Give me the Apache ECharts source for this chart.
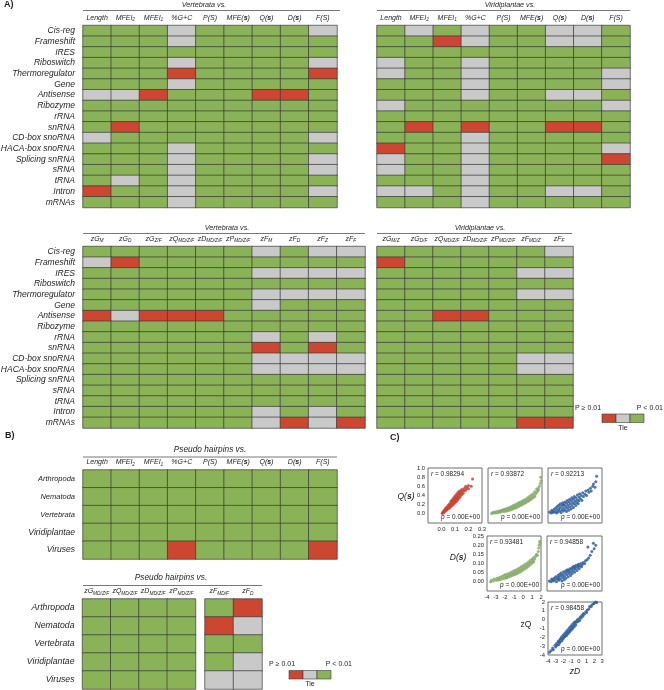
<!DOCTYPE html>
<html><head><meta charset="utf-8">
<script src="https://cdn.jsdelivr.net/npm/echarts@6/dist/echarts.min.js"></script>
<style>html,body{margin:0;padding:0;background:#fff}#c{width:664px;height:690px}</style>
</head><body><div id="c"></div>
<script>
// ---------------- DATA ----------------
const rnaRows = ['Cis-reg','Frameshift','IRES','Riboswitch','Thermoregulator','Gene','Antisense','Ribozyme','rRNA','snRNA','CD-box snoRNA','HACA-box snoRNA','Splicing snRNA','sRNA','tRNA','Intron','mRNAs'];
const featCols = ['Length','MFEI_2','MFEI_1','%G+C','P(S)','MFE(s)','Q(s)','D(s)','F(S)'];
const zColsVert = ['zG_M','zG_D','zG_Z/F','zQ_MD/Z/F','zD_MD/Z/F','zP_MD/Z/F','zF_M','zF_D','zF_Z','zF_F'];
const zColsViri = ['zG_M/Z','zG_D/F','zQ_MD/Z/F','zD_MD/Z/F','zP_MD/Z/F','zF_MD/Z','zF_F'];
const taxaRows = ['Arthropoda','Nematoda','Vertebrata','Viridiplantae','Viruses'];
const zColsPseudoA = ['zG_MD/Z/F','zQ_MD/Z/F','zD_MD/Z/F','zP_MD/Z/F'];
const zColsPseudoB = ['zF_MD/F','zF_D'];
// codes: G = P < 0.01, T = tie, R = P >= 0.01
const vertFeat = ['GGGTGGGGT','GGGTGGGGG','GGGGGGGGG','GGGTGGGGT','GGGRGGGGR','GGGTGGGGG','TTRGGGRRG','GGGGGGGGG','GGGGGGGGG','GRGGGGGGG','TGGGGGGGT','GGGTGGGGG','GGGTGGGGT','GGGTGGGGT','GTGTGGGGG','RGGTGGGGT','GGGTGGGGG'];
const viriFeat = ['GTGTGGTTG','GGRTGGTTG','GGGGGGGGG','TGGTGGGGG','TGGTGGGGT','GGGTGGGGT','GGGTGGTTG','TGGGGGGGT','GGGGGGGGG','GRGRGGRRG','GGGTGGGGG','RGGTGGGGT','TGGTGGGGR','TGGTGGGGG','GGGTGGGGG','TTGTGGTTG','GGGTGGGGG'];
const vertZ = ['GGGGGGTGTT','TRGGGGGGGG','GGGGGGTTTT','GGGGGGGGGG','GGGGGGTTTT','GGGGGGTGGG','RTRRRGGGGG','GGGGGGGGGG','GGGGGGTGTG','GGGGGGRGRG','GGGGGGTTTT','GGGGGGTTTT','GGGGGGGGGG','GGGGGGGGGG','GGGGGGGGGG','GGGGGGTGTG','GGGGGGTRTR'];
const viriZ = ['GGGGGGT','RGGGGGG','GGGGGTT','GGGGGGG','GGGGGTT','GGGGGGG','GGRRGGG','GGGGGGG','GGGGGGG','GGGGGGG','GGGGGTT','GGGGGTT','GGGGGGG','GGGGGGG','GGGGGGG','GGGGGGG','GGGGGRR'];
const pseudoFeat = ['GGGGGGGGG','GGGGGGGGG','GGGGGGGGG','GGGGGGGGG','GGGRGGGGR'];
const pseudoZA = ['GGGG','GGGG','GGGG','GGGG','GGGG'];
const pseudoZB = ['GR','RT','GG','GT','TT'];

// scatter panels (panel C)
const qVsD = [[0.005,0.01],[0.01,0.02],[0.01,0.04],[0.02,0.04],[0.02,0.06],[0.02,0.08],[0.03,0.06],[0.03,0.09],[0.03,0.12],[0.04,0.09],[0.04,0.12],[0.04,0.15],[0.05,0.11],[0.05,0.15],[0.05,0.19],[0.06,0.13],[0.06,0.17],[0.06,0.22],[0.07,0.16],[0.07,0.2],[0.07,0.25],[0.07,0.28],[0.08,0.18],[0.08,0.23],[0.08,0.28],[0.08,0.31],[0.09,0.21],[0.09,0.26],[0.09,0.3],[0.09,0.35],[0.1,0.24],[0.1,0.29],[0.1,0.34],[0.1,0.39],[0.11,0.27],[0.11,0.32],[0.11,0.37],[0.11,0.42],[0.12,0.3],[0.12,0.36],[0.12,0.41],[0.12,0.46],[0.13,0.34],[0.13,0.4],[0.13,0.45],[0.13,0.49],[0.14,0.38],[0.14,0.44],[0.14,0.5],[0.15,0.42],[0.15,0.48],[0.15,0.53],[0.16,0.45],[0.16,0.52],[0.17,0.5],[0.17,0.56],[0.18,0.52],[0.18,0.6],[0.19,0.57],[0.2,0.55],[0.2,0.62],[0.22,0.6],[0.23,0.76],[0.015,0.03],[0.035,0.1],[0.065,0.19],[0.095,0.28],[0.115,0.34]];
const qVsZQ = [[-3.6,0.01],[-3.5,0.03],[-3.4,0.02],[-3.3,0.03],[-3.2,0.04],[-3.1,0.02],[-3.0,0.05],[-2.9,0.03],[-2.8,0.06],[-2.7,0.04],[-2.6,0.07],[-2.6,0.04],[-2.5,0.05],[-2.5,0.08],[-2.4,0.06],[-2.3,0.09],[-2.2,0.05],[-2.2,0.1],[-2.1,0.08],[-2.0,0.06],[-2.0,0.11],[-1.9,0.09],[-1.8,0.07],[-1.8,0.13],[-1.7,0.1],[-1.6,0.08],[-1.6,0.14],[-1.5,0.12],[-1.4,0.09],[-1.4,0.16],[-1.3,0.13],[-1.2,0.11],[-1.2,0.18],[-1.1,0.15],[-1.0,0.12],[-1.0,0.2],[-0.9,0.17],[-0.8,0.14],[-0.8,0.22],[-0.7,0.19],[-0.6,0.16],[-0.6,0.24],[-0.5,0.21],[-0.4,0.18],[-0.4,0.26],[-0.3,0.23],[-0.2,0.2],[-0.2,0.28],[-0.1,0.25],[0.0,0.22],[0.0,0.3],[0.1,0.27],[0.2,0.24],[0.2,0.32],[0.3,0.29],[0.4,0.27],[0.4,0.35],[0.5,0.32],[0.6,0.29],[0.6,0.38],[0.7,0.34],[0.8,0.32],[0.8,0.41],[0.9,0.37],[1.0,0.35],[1.0,0.44],[1.1,0.4],[1.2,0.38],[1.2,0.48],[1.3,0.44],[1.4,0.47],[1.4,0.54],[1.5,0.5],[1.6,0.52],[1.6,0.56],[1.7,0.6],[1.8,0.66],[1.9,0.72],[1.85,0.8]];
const qVsZD = [[-3.8,0.04],[-3.6,0.02],[-3.5,0.08],[-3.4,0.05],[-3.3,0.03],[-3.2,0.1],[-3.1,0.05],[-3.0,0.13],[-2.9,0.02],[-2.8,0.08],[-2.8,0.16],[-2.7,0.04],[-2.6,0.11],[-2.6,0.19],[-2.5,0.06],[-2.4,0.14],[-2.4,0.22],[-2.3,0.03],[-2.2,0.09],[-2.2,0.18],[-2.1,0.24],[-2.0,0.06],[-2.0,0.13],[-2.0,0.2],[-1.9,0.2],[-1.8,0.26],[-1.8,0.09],[-1.7,0.16],[-1.6,0.05],[-1.6,0.23],[-1.5,0.12],[-1.5,0.29],[-1.4,0.19],[-1.3,0.08],[-1.3,0.26],[-1.2,0.15],[-1.2,0.32],[-1.1,0.22],[-1.0,0.11],[-1.0,0.29],[-0.9,0.18],[-0.9,0.35],[-0.8,0.25],[-0.7,0.14],[-0.7,0.32],[-0.6,0.22],[-0.6,0.38],[-0.5,0.28],[-0.4,0.18],[-0.4,0.35],[-0.3,0.25],[-0.2,0.41],[-0.2,0.31],[-0.1,0.22],[0.0,0.37],[0.0,0.28],[0.1,0.44],[0.2,0.33],[0.3,0.4],[0.4,0.29],[0.5,0.46],[0.6,0.38],[0.8,0.43],[0.9,0.5],[1.0,0.4],[1.2,0.52],[1.3,0.47],[1.5,0.56],[1.6,0.5],[1.8,0.6],[1.9,0.65],[2.1,0.58],[2.2,0.7],[2.3,0.82]];
const dVsZQ = [[-3.6,0.0],[-3.5,0.01],[-3.3,0.005],[-3.2,0.015],[-3.0,0.008],[-2.9,0.02],[-2.8,0.01],[-2.7,0.022],[-2.6,0.012],[-2.5,0.027],[-2.4,0.015],[-2.3,0.03],[-2.2,0.018],[-2.1,0.035],[-2.0,0.02],[-2.0,0.038],[-1.9,0.028],[-1.8,0.022],[-1.8,0.042],[-1.7,0.032],[-1.6,0.026],[-1.6,0.046],[-1.5,0.036],[-1.4,0.03],[-1.4,0.05],[-1.3,0.04],[-1.2,0.034],[-1.2,0.055],[-1.1,0.045],[-1.0,0.038],[-1.0,0.06],[-0.9,0.05],[-0.8,0.042],[-0.8,0.065],[-0.7,0.055],[-0.6,0.047],[-0.6,0.07],[-0.5,0.06],[-0.4,0.052],[-0.4,0.076],[-0.3,0.066],[-0.2,0.058],[-0.2,0.082],[-0.1,0.072],[0.0,0.064],[0.0,0.088],[0.1,0.078],[0.2,0.07],[0.2,0.094],[0.3,0.085],[0.4,0.077],[0.4,0.1],[0.5,0.092],[0.6,0.085],[0.6,0.108],[0.7,0.1],[0.8,0.093],[0.8,0.116],[0.9,0.108],[1.0,0.102],[1.0,0.124],[1.1,0.116],[1.2,0.11],[1.2,0.133],[1.3,0.125],[1.4,0.14],[1.5,0.15],[1.6,0.145],[1.7,0.165],[1.75,0.185],[1.8,0.2],[1.85,0.22],[1.9,0.21]];
const dVsZD = [[-3.7,0.005],[-3.5,0.0],[-3.4,0.015],[-3.3,0.01],[-3.2,0.005],[-3.1,0.02],[-3.0,0.01],[-2.9,0.028],[-2.8,0.0],[-2.7,0.018],[-2.6,0.035],[-2.6,0.015],[-2.5,0.008],[-2.5,0.026],[-2.4,0.042],[-2.3,0.015],[-2.2,0.032],[-2.2,0.048],[-2.1,0.005],[-2.0,0.022],[-2.0,0.04],[-1.9,0.055],[-1.8,0.012],[-1.8,0.03],[-1.7,0.047],[-1.6,0.06],[-1.6,0.02],[-1.5,0.038],[-1.4,0.054],[-1.4,0.066],[-1.3,0.028],[-1.2,0.045],[-1.2,0.062],[-1.1,0.072],[-1.0,0.035],[-1.0,0.053],[-0.9,0.068],[-0.8,0.078],[-0.8,0.045],[-0.7,0.06],[-0.6,0.074],[-0.6,0.085],[-0.5,0.052],[-0.4,0.068],[-0.4,0.082],[-0.3,0.09],[-0.2,0.062],[-0.1,0.078],[0.0,0.088],[0.0,0.096],[0.1,0.072],[0.2,0.086],[0.3,0.1],[0.4,0.082],[0.5,0.095],[0.6,0.106],[0.8,0.1],[0.9,0.115],[1.1,0.12],[1.2,0.19],[1.3,0.13],[1.5,0.145],[1.7,0.165],[1.9,0.21],[2.0,0.18],[2.2,0.2]];
const zqVsZD = [[-3.8,-3.7],[-3.6,-3.5],[-3.4,-3.2],[-3.3,-3.4],[-3.1,-2.9],[-3.0,-3.1],[-2.9,-2.7],[-2.8,-2.9],[-2.7,-2.5],[-2.6,-2.8],[-2.6,-2.4],[-2.5,-2.6],[-2.4,-2.2],[-2.4,-2.5],[-2.3,-2.1],[-2.2,-2.4],[-2.2,-1.9],[-2.1,-2.2],[-2.0,-1.7],[-2.0,-2.1],[-1.9,-1.9],[-1.8,-1.5],[-1.8,-1.9],[-1.7,-1.7],[-1.6,-1.3],[-1.6,-1.8],[-1.5,-1.5],[-1.4,-1.1],[-1.4,-1.6],[-1.3,-1.3],[-1.2,-0.9],[-1.2,-1.4],[-1.1,-1.1],[-1.0,-0.7],[-1.0,-1.2],[-0.9,-0.9],[-0.8,-0.5],[-0.8,-1.0],[-0.7,-0.7],[-0.6,-0.3],[-0.6,-0.8],[-0.5,-0.5],[-0.4,-0.2],[-0.4,-0.6],[-0.3,-0.3],[-0.2,0.0],[-0.1,-0.2],[0.0,0.1],[0.1,-0.1],[0.2,0.3],[0.3,0.2],[0.4,0.5],[0.5,0.4],[0.6,0.7],[0.7,0.6],[0.9,0.9],[1.0,0.8],[1.1,1.1],[1.3,1.2],[1.4,1.5],[1.6,1.5],[1.7,1.7],[1.9,1.8],[2.0,1.9],[2.2,2.0],[2.3,1.95]];
const rValues = ['0.98294','0.93872','0.92213','0.93481','0.94858','0.98458'];
const pValues = ['0.00E+00','0.00E+00','0.00E+00','0.00E+00','0.00E+00','0.00E+00'];

// ---------------- STYLE / LAYOUT ----------------
const FF = 'Liberation Sans';
const RED = '#cd4630', GRAY = '#c9c9c9', GREEN = '#8ab257';
const TXT = '#1e1e1e';
const codeVal = {R:0, T:1, G:2};

function colFmt(l){
  let s = l.replace('(s)','({b|s})');
  const i = s.indexOf('_');
  if (i >= 0) s = s.slice(0,i) + '{s|' + s.slice(i+1) + '}';
  return s;
}
const colRich = {
  s:{fontSize:4.8, fontStyle:'italic', fontFamily:FF, color:TXT, verticalAlign:'bottom', lineHeight:5},
  b:{fontSize:7, fontStyle:'italic', fontWeight:'bold', fontFamily:FF, color:TXT, lineHeight:9}
};

const heatPanels = [
  {cols:featCols, rows:rnaRows, cells:vertFeat, l:83, t:25.5, w:254, h:182, rl:true},
  {cols:featCols, rows:rnaRows, cells:viriFeat, l:377, t:25.5, w:253, h:182, rl:false},
  {cols:zColsVert, rows:rnaRows, cells:vertZ, l:83, t:246.5, w:282, h:181.5, rl:true},
  {cols:zColsViri, rows:rnaRows, cells:viriZ, l:377, t:246.5, w:196, h:181.5, rl:false},
  {cols:featCols, rows:taxaRows, cells:pseudoFeat, l:83, t:470, w:254, h:89, rl:true, taxaTop:true},
  {cols:zColsPseudoA, rows:taxaRows, cells:pseudoZA, l:82.5, t:599, w:113, h:90, rl:true, taxaBig:true},
  {cols:zColsPseudoB, rows:taxaRows, cells:pseudoZB, l:205, t:599, w:57, h:90, rl:false}
];

// hx / hy: hide the label at the axis minimum
const scatterPanels = [
  {data:qVsD, color:'#c9432f', l:428, t:468, w:54, h:55, x:[-0.1,0.3,0.1], y:[-0.2,1.0,0.2], showX:true, showY:true, xd:1, yd:1, hx:true, hy:true},
  {data:qVsZQ, color:'#86ad6a', l:488, t:468, w:54, h:55, x:[-4,2,1], y:[-0.2,1.0,0.2]},
  {data:qVsZD, color:'#2f5f9e', l:548, t:468, w:54, h:55, x:[-4,3,1], y:[-0.2,1.0,0.2]},
  {data:dVsZQ, color:'#86ad6a', l:487, t:536, w:54, h:55, x:[-4,2,1], y:[-0.05,0.25,0.05], showX:true, showY:true, xd:0, yd:2, hx:false, hy:true},
  {data:dVsZD, color:'#2f5f9e', l:547, t:536, w:55, h:55, x:[-4,3,1], y:[-0.05,0.25,0.05]},
  {data:zqVsZD, color:'#2f5f9e', l:548, t:602, w:54, h:53, x:[-4,3,1], y:[-4,2,1], showX:true, showY:true, xd:0, yd:0, hx:false, hy:false}
];

const grids = [], xAxes = [], yAxes = [], series = [], graphics = [];

heatPanels.forEach((p, i) => {
  grids.push({left:p.l, top:p.t, width:p.w, height:p.h, containLabel:false, outerBoundsMode:'none', show:false});
  xAxes.push({gridIndex:i, type:'category', data:p.cols, position:'top',
    axisLine:{show:false}, axisTick:{show:false}, splitLine:{show:false},
    axisLabel:{interval:0, margin:3, fontSize:7, lineHeight:9, fontStyle:'italic', fontFamily:FF, color:TXT, formatter:colFmt, rich:colRich}});
  yAxes.push({gridIndex:i, type:'category', data:p.rows, inverse:true,
    axisLine:{show:false}, axisTick:{show:false}, splitLine:{show:false},
    axisLabel:{show:p.rl, interval:0, margin:8, fontSize:p.taxaBig?8.7:8.5, fontStyle:'italic', fontFamily:FF, color:TXT,
      formatter: p.taxaTop ? (v => (v==='Viridiplantae'||v==='Viruses') ? '{L|'+v+'}' : '{m|'+v+'}') : (v => v),
      rich:{L:{fontSize:8.5, fontStyle:'italic', fontFamily:FF, color:TXT}, m:{fontSize:7.5, fontStyle:'italic', fontFamily:FF, color:TXT}}}});
  const data = [];
  p.cells.forEach((row, y) => { row.split('').forEach((c, x) => data.push([x, y, codeVal[c]])); });
  series.push({type:'heatmap', xAxisIndex:i, yAxisIndex:i, data,
    itemStyle:{borderColor:'#3a3a3a', borderWidth:0.7}, emphasis:{disabled:true}, silent:true});
});

const nHeat = heatPanels.length;
scatterPanels.forEach((p, k) => {
  const i = nHeat + k;
  grids.push({left:p.l, top:p.t, width:p.w, height:p.h, containLabel:false, outerBoundsMode:'none', show:true, borderColor:'#6f6f6f', borderWidth:1});
  const fmt = (d, min, hide) => (v => (hide && Math.abs(v - min) < 1e-9) ? '' : (d > 0 ? v.toFixed(d) : String(Math.round(v))));
  xAxes.push({gridIndex:i, type:'value', min:p.x[0], max:p.x[1], interval:p.x[2],
    axisLine:{show:false}, axisTick:{show:false}, splitLine:{show:false},
    axisLabel:{show:!!p.showX, margin:3, fontSize:5.8, fontFamily:FF, color:TXT, formatter:fmt(p.xd||0, p.x[0], p.hx)}});
  yAxes.push({gridIndex:i, type:'value', min:p.y[0], max:p.y[1], interval:p.y[2],
    axisLine:{show:false}, axisTick:{show:false}, splitLine:{show:false},
    axisLabel:{show:!!p.showY, margin:3, fontSize:5.8, fontFamily:FF, color:TXT, formatter:fmt(p.yd||0, p.y[0], p.hy)}});
  series.push({type:'scatter', xAxisIndex:i, yAxisIndex:i, data:p.data, symbolSize:3,
    itemStyle:{color:p.color, opacity:0.85}, silent:true});
  graphics.push({type:'text', z:10, style:{text:'{i|r} = ' + rValues[k], x:p.l+3, y:p.t+6, verticalAlign:'middle', fontSize:6.5, fontFamily:FF, fill:TXT,
    rich:{i:{fontStyle:'italic', fontSize:6.5, fontFamily:FF, fill:TXT}}}});
  graphics.push({type:'text', z:10, style:{text:'{i|p} = ' + pValues[k], x:p.l+p.w-2, y:p.t+p.h-5.5, align:'right', verticalAlign:'middle', fontSize:6.5, fontFamily:FF, fill:TXT,
    rich:{i:{fontStyle:'italic', fontSize:6.5, fontFamily:FF, fill:TXT}}}});
});

function txt(t, x, y, o){ graphics.push({type:'text', style:Object.assign({text:t, x, y, fill:TXT, fontFamily:FF, fontSize:7, align:'center', verticalAlign:'middle'}, o||{})}); }
function rule(x1, x2, y){ graphics.push({type:'line', shape:{x1, y1:y, x2, y2:y}, style:{stroke:'#555', lineWidth:0.8}}); }
txt('A)', 4, 5, {align:'left', fontWeight:'bold', fontSize:9});
txt('B)', 5, 436, {align:'left', fontWeight:'bold', fontSize:9});
txt('C)', 390, 438, {align:'left', fontWeight:'bold', fontSize:9});
txt('Vertebrata vs.', 204, 5, {fontStyle:'italic', fontSize:7.2}); rule(83, 340, 10.5);
txt('Viridiplantae vs.', 510, 5, {fontStyle:'italic', fontSize:7.2}); rule(377, 630, 10.5);
txt('Vertebrata vs.', 227, 228, {fontStyle:'italic', fontSize:7.2}); rule(83, 365, 233.5);
txt('Viridiplantae vs.', 480, 228, {fontStyle:'italic', fontSize:7.2}); rule(377, 572, 233.5);
txt('Pseudo hairpins vs.', 210, 450, {fontStyle:'italic', fontSize:8.3}); rule(83, 337, 457);
txt('Pseudo hairpins vs.', 171, 578, {fontStyle:'italic', fontSize:8.3}); rule(83, 262, 585.5);
const at = {fontStyle:'italic', fontSize:8.5, rich:{b:{fontStyle:'italic', fontWeight:'bold', fontSize:8.5, fontFamily:FF, fill:TXT}}};
txt('Q({b|s})', 406, 497, at);
txt('D({b|s})', 458, 558, at);
txt('zQ', 526, 625, {fontSize:8.5});
txt('zD', 575, 672, {fontStyle:'italic', fontSize:8.5});
function legend(x, y, lx1, lx2, ly){
  txt('P \u2265 0.01', lx1, ly, {align:'left', fontSize:7});
  txt('P < 0.01', lx2, ly, {align:'right', fontSize:7});
  [RED, GRAY, GREEN].forEach((c, j) => graphics.push({type:'rect', shape:{x:x + j*14, y, width:14, height:8.5}, style:{fill:c, stroke:'#3a3a3a', lineWidth:0.6}}));
  txt('Tie', x + 21, y + 14, {fontSize:7});
}
legend(602, 414, 575, 663, 408);
legend(289, 670.5, 269, 352, 664);

const option = {
  animation:false,
  backgroundColor:'#fff',
  grid:grids, xAxis:xAxes, yAxis:yAxes, series,
  visualMap:{type:'piecewise', show:false, seriesIndex:heatPanels.map((_, i) => i), dimension:2,
    pieces:[{value:0, color:RED}, {value:1, color:GRAY}, {value:2, color:GREEN}]},
  graphic:graphics
};
const chart = echarts.init(document.getElementById('c'), null, {renderer:'canvas'});
chart.setOption(option);
</script></body></html>
